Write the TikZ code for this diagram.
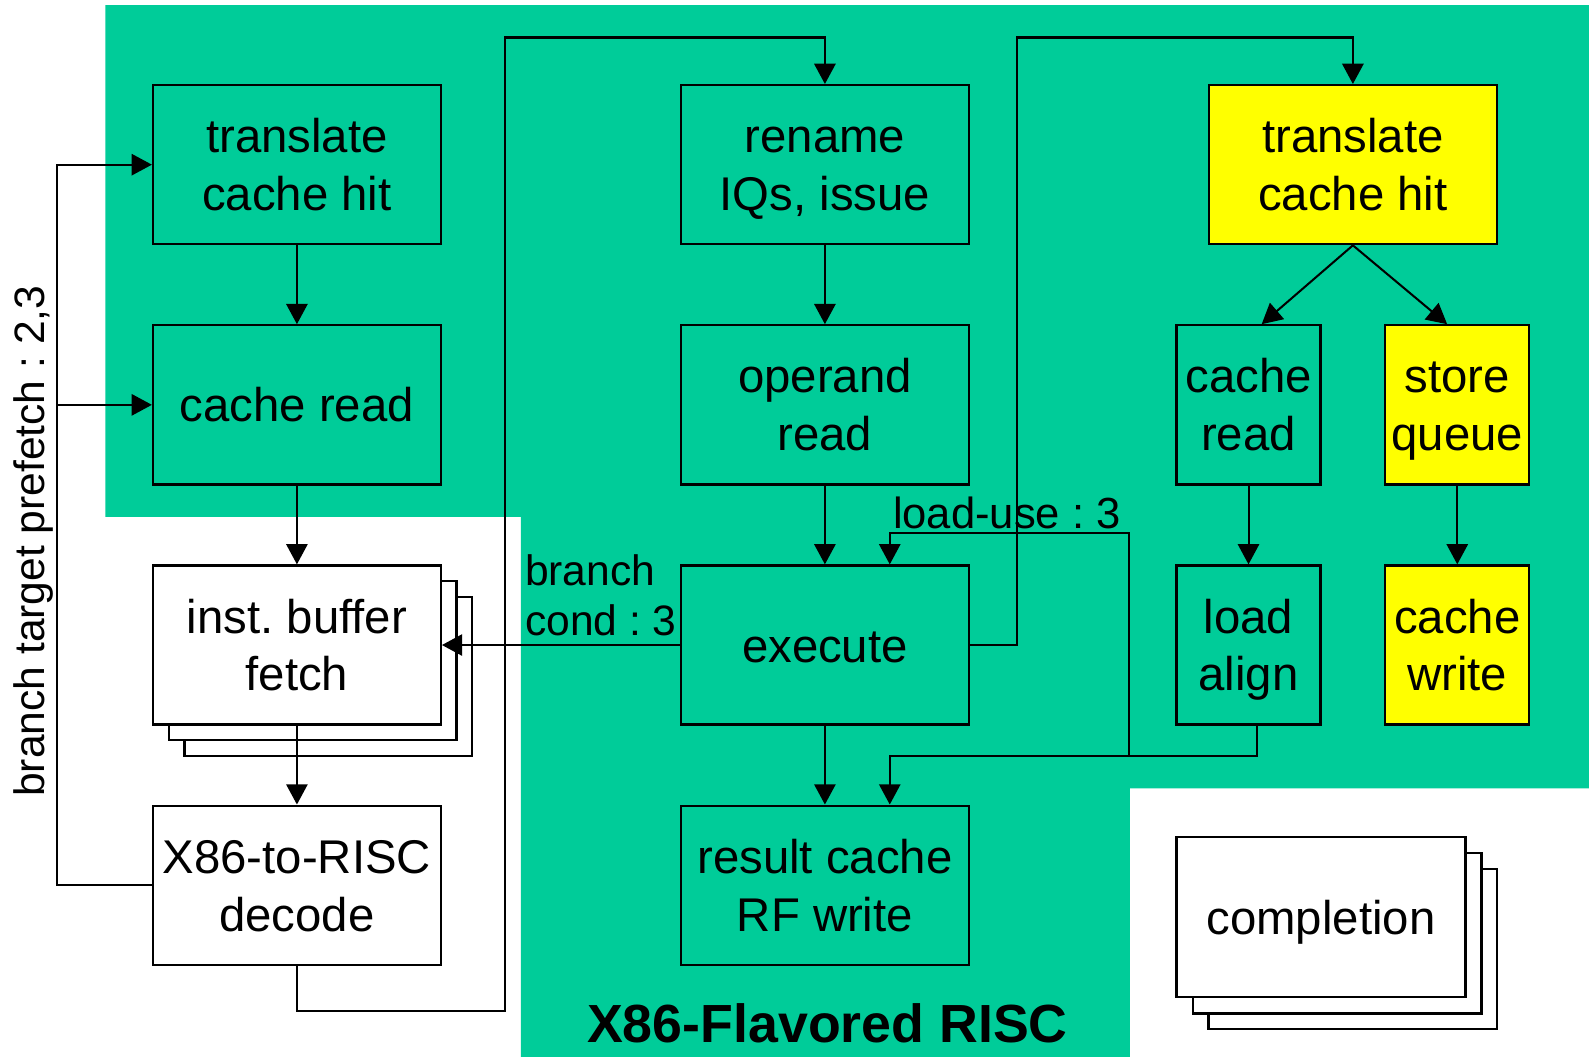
\documentclass[tikz,border=0pt]{standalone}
\usepackage{fontspec}
\setmainfont{Liberation Sans}
\usetikzlibrary{arrows.meta}
\definecolor{bggreen}{RGB}{0,204,153}
\definecolor{hlyellow}{RGB}{255,255,0}
\newcommand{\bxs}{\rule[-11.25pt]{0pt}{56pt}}
\frenchspacing
\begin{document}
\begin{tikzpicture}[x=1pt,y=-1pt,
  box/.style={draw=black, line width=2.2pt, minimum width=284pt, minimum height=157pt,
    inner sep=0pt, align=center, font=\fontsize{46.7}{57}\selectfont},
  gbox/.style={box, fill=bggreen},
  ybox/.style={box, fill=hlyellow},
  wbox/.style={box, fill=white},
  narrow/.style={minimum width=142pt},
  conn/.style={line width=2pt, -{Triangle[length=20pt,width=21pt]}},
  lbl/.style={inner sep=0pt, font=\fontsize{42}{49}\selectfont}
]
\useasboundingbox (0,0) rectangle (1568,1043);
% background region
\fill[bggreen] (104,5) -- (1568,5) -- (1568,778) -- (1115,778) -- (1115,1043)
  -- (514,1043) -- (514,510) -- (104,510) -- cycle;

% left column
\node[gbox] (tch1) at (293,162.5) {\bxs translate\\\bxs cache hit};
\node[gbox] (cr1) at (293,399.5) {\bxs cache read};
\node[wbox] (ibfs2) at (324,667.5) {};
\node[wbox] (ibfs1) at (308.5,652) {};
\node[wbox] (ibf) at (293,636.5) {\bxs inst. buffer\\\bxs fetch};
\node[wbox] (dec) at (293,873.5) {\bxs X86-to-RISC\\\bxs decode};

% middle column
\node[gbox] (ren) at (814,162.5) {\bxs rename\\\bxs IQs, issue};
\node[gbox] (opr) at (814,399.5) {\bxs operand\\\bxs read};
\node[gbox] (exe) at (814,636.5) {\bxs execute};
\node[gbox] (rcw) at (814,873.5) {\bxs result cache\\\bxs RF write};

% right column
\node[ybox] (tch2) at (1335,162.5) {\bxs translate\\\bxs cache hit};
\node[gbox,narrow] (cr2) at (1232,399.5) {\bxs cache\\\bxs read};
\node[ybox,narrow] (sq) at (1438,399.5) {\bxs store\\\bxs queue};
\node[gbox,narrow] (la) at (1232,636.5) {\bxs load\\\bxs align};
\node[ybox,narrow] (cw) at (1438,636.5) {\bxs cache\\\bxs write};

% completion stack
\node[wbox,minimum width=285pt,minimum height=158pt] (comps2) at (1335,936.5) {};
\node[wbox,minimum width=285pt,minimum height=158pt] (comps1) at (1319.5,921) {};
\node[wbox,minimum width=285pt,minimum height=158pt] (comp) at (1303.5,905) {\bxs completion};

% coordinates
\coordinate (bt) at (56,399.5);
\coordinate (lu) at (878,746);
\coordinate (j) at (1114,746);

% connectors
\draw[conn] (tch1) -- (cr1);
\draw[conn] (cr1) -- (ibf);
\draw[conn] (ibf) -- (dec);
\draw[conn] (dec.south) |- (498,998) -- (498,37) -| (ren.north);
\draw[conn] (dec.west) -| (56,162.5) -- (tch1.west);
\draw[conn] (bt) -- (cr1.west);
\draw[conn] (ren) -- (opr);
\draw[conn] (opr) -- (exe);
\draw[conn] (exe) -- (rcw);
\draw[conn] (exe.west) -- (ibf.east);
\draw[conn] (exe.east) -| (1004,37) -| (tch2.north);
\draw[conn] (tch2.south) -- ([xshift=13pt]cr2.north);
\draw[conn] (tch2.south) -- ([xshift=-10pt]sq.north);
\draw[conn] (cr2) -- (la);
\draw[conn] (sq) -- (cw);
\draw[conn] ([xshift=8pt]la.south) |- (lu) -- ([xshift=64pt]rcw.north);
\draw[conn] (j) |- (878,526) -- ([xshift=64pt]exe.north);

% labels
\node[lbl, anchor=north west, align=left] (bclbl) at (518,547) {branch\\cond : 3};
\node[lbl, anchor=base west, font=\fontsize{43}{49}\selectfont] (lulbl) at (881,522) {load-use : 3};
\node[lbl, rotate=90, anchor=base] (btlbl) at (44,534) {branch target prefetch : 2,3};
\node[inner sep=0pt, anchor=base, font=\bfseries\fontsize{53}{60}\selectfont] (title) at (816.5,1029) {X86-Flavored RISC};
\end{tikzpicture}
\end{document}
